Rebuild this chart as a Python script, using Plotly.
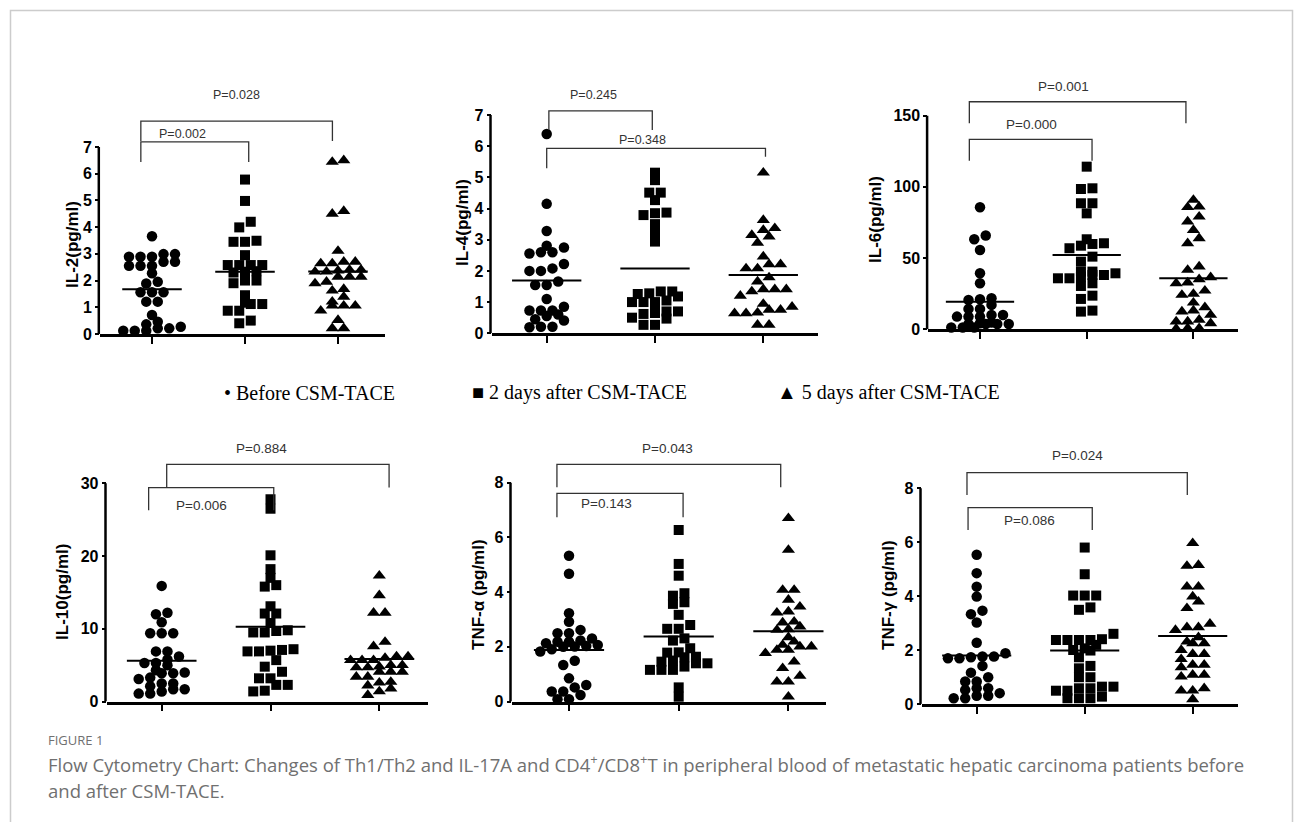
import plotly.graph_objects as go
import numpy as np

W, H = 1295, 822
SY = 822.0 / 831.0   # measured vertical scale of the photographed page

group_names = ["Before CSM-TACE", "2 days after CSM-TACE", "5 days after CSM-TACE"]
symbols = ["circle", "square", "triangle-up"]
marker_sizes = [10.5, 10, 11.5]

# ---------------- data ----------------
il2_before = [3.66, 2.89, 2.99, 2.99, 2.89, 2.89, 2.55, 2.55, 2.7, 2.7, 2.55, 2.27, 1.95, 1.89,
              1.56, 1.56, 1.56, 1.21, 1.21, 0.71, 0.36, 0.27, 0.46, 0.21, 0.12, 0.12, 0.12, 0.21]
il2_day2 = [5.78, 4.98, 4.2, 3.99, 3.49, 3.45, 3.45, 2.95, 2.58, 2.58, 2.58, 2.58, 2.35, 2.3,
            2.33, 2.0, 2.0, 1.9, 1.45, 1.12, 1.12, 1.17, 0.87, 0.87, 0.4, 0.5]
il2_day5 = [6.5, 6.44, 4.5, 4.6, 3.11, 2.7, 2.64, 2.64, 2.7, 2.4, 2.33, 2.33, 2.4, 2.37, 2.14,
            2.14, 2.14, 1.89, 1.95, 1.68, 1.62, 1.39, 1.21, 1.06, 1.06, 1.06, 0.87, 0.52, 0.21, 0.21]
il2_means = [1.67, 2.33, 2.34]
il2_ticks = [0, 1, 2, 3, 4, 5, 6, 7]

il4_before = [6.39, 4.15, 3.28, 2.75, 2.81, 2.6, 2.56, 2.6, 2.0, 2.08, 2.22, 2.0, 1.55, 1.66, 1.55,
              1.10, 0.85, 0.73, 0.73, 0.73, 0.6, 0.55, 0.45, 0.41, 0.21, 0.19, 0.21]
il4_day2 = [5.15, 4.91, 4.51, 4.51, 4.27, 3.85, 3.79, 3.87, 3.5, 3.2, 2.94, 1.34, 1.28, 1.18, 1.26,
            1.34, 1.0, 1.05, 1.0, 1.0, 0.7, 0.75, 0.65, 0.7, 0.62, 0.5, 0.47, 0.27, 0.27]
il4_day5 = [5.15, 3.63, 3.37, 3.31, 3.1, 3.15, 2.9, 2.46, 2.21, 2.08, 2.08, 2.21, 1.79, 1.66, 1.41,
            1.41, 1.2, 1.34, 1.41, 0.94, 0.75, 0.75, 0.85, 0.66, 0.64, 0.64, 0.27, 0.27]
il4_means = [1.69, 2.08, 1.87]
il4_ticks = [0, 1, 2, 3, 4, 5, 6, 7]

il6_before = [85.7, 65.8, 63.2, 55.7, 39.3, 32.3, 21.8, 20.6, 21.1, 14.3, 17.1, 14.3, 8.9, 10, 8.9,
              10, 8.9, 3.7, 4.2, 3.7, 4.7, 3.7, 3.7, 1.2, 1.2, 1.2]
il6_day2 = [114.2, 99, 98.5, 88.5, 88.5, 81.4, 63.2, 59.9, 56.9, 58.7, 60.4, 51, 47.5, 38.1, 40.5,
            40.5, 38.1, 35.8, 39.3, 30.4, 32.3, 23.6, 21.3, 12.4, 13.1, 37, 35.8]
il6_day5 = [90.8, 86.1, 85.7, 75.6, 79.1, 69.7, 63.9, 60.4, 44, 41.7, 32.8, 36.5, 35.1, 32.3, 27.1,
            24.1, 24.8, 15.4, 12.4, 10.1, 13.1, 18.7, 5.4, 5.4, 6.6, 4.2, 0.7, 0.3, 0.7]
il6_means = [19.4, 52.2, 35.8]
il6_ticks = [0, 50, 100, 150]

il10_before = [15.9, 12.0, 12.2, 10.9, 9.4, 9.4, 9.4, 6.9, 5.8, 6.9, 6.2, 5.3, 5.0, 5.3, 4.3, 3.3,
               3.9, 3.9, 4.0, 2.5, 3.1, 2.5, 1.7, 1.4, 1.1, 1.1, 1.7, 2.1]
il10_day2 = [27.8, 26.5, 20.1, 18.2, 17.0, 16.0, 15.8, 13.1, 12.1, 12.1, 9.8, 9.5, 9.5, 9.7, 10.8,
             7.2, 6.9, 7.1, 6.9, 7.0, 5.7, 4.8, 3.2, 3.2, 4.1, 2.3, 2.3, 1.4, 1.5]
il10_day5 = [17.3, 14.6, 12.2, 12.2, 8.2, 7.6, 5.7, 6.2, 5.7, 6.0, 6.2, 5.7, 5.0, 4.7, 4.7, 5.0, 4.8,
             4.1, 3.4, 3.4, 4.1, 4.1, 2.7, 2.6, 2.2, 1.8, 1.4, 0.9]
il10_means = [5.63, 10.3, 5.86]
il10_ticks = [0, 10, 20, 30]

tnfa_before = [5.33, 4.67, 3.23, 2.92, 2.62, 2.5, 2.5, 2.07, 2.23, 2.19, 2.19, 2.31, 1.83, 1.91, 2.01,
               2.13, 1.34, 1.49, 0.85, 0.61, 0.52, 0.37, 0.24, 0.09, 0.09, 0.37, 2.03, 2.0]
tnfa_day2 = [6.27, 5.03, 4.6, 3.96, 3.63, 3.57, 3.87, 3.17, 2.8, 2.66, 2.66, 2.31, 2.23, 1.95, 1.79,
             1.8, 1.64, 1.62, 1.16, 1.16, 1.28, 1.16, 1.4, 0.52, 0.18, 1.5, 1.46, 1.4]
tnfa_day5 = [6.7, 5.54, 4.08, 4.08, 3.72, 3.47, 3.25, 3.29, 2.92, 2.74, 2.64, 2.89, 2.62, 2.19, 2.01,
             2.01, 2.07, 2.35, 1.89, 1.77, 1.89, 1.46, 1.22, 0.94, 0.73, 0.73, 0.18]
tnfa_means = [1.89, 2.38, 2.57]
tnfa_ticks = [0, 2, 4, 6, 8]

tnfg_before = [5.53, 4.85, 4.35, 3.98, 3.46, 3.33, 3.02, 2.27, 1.76, 1.69, 1.88, 1.69, 1.76, 1.73,
               1.41, 1.16, 0.99, 0.83, 0.83, 0.58, 0.52, 0.58, 0.40, 0.30, 0.21, 0.21, 0.30]
tnfg_day2 = [5.8, 4.81, 4.02, 4.02, 4.02, 3.58, 3.49, 2.6, 2.37, 2.37, 2.37, 2.37, 2.4, 2.19, 2.0,
             2.06, 1.98, 1.73, 1.32, 1.41, 0.99, 0.99, 0.64, 0.64, 0.58, 0.58, 0.49, 0.49, 0.27,
             0.21, 0.21, 0.21]
tnfg_day5 = [5.96, 5.15, 5.12, 4.35, 4.35, 3.98, 3.79, 3.55, 2.84, 2.74, 2.84, 2.97, 2.47, 2.31, 2.25,
             2.25, 1.85, 1.85, 2.0, 1.66, 1.36, 1.45, 1.45, 1.08, 1.01, 1.08, 0.49, 0.49, 0.58, 0.17]
tnfg_means = [1.80, 1.98, 2.52]
tnfg_ticks = [0, 2, 4, 6, 8]

p_labels = {
    "IL-2": ["P=0.002", "P=0.028"],
    "IL-4": ["P=0.245", "P=0.348"],
    "IL-6": ["P=0.000", "P=0.001"],
    "IL-10": ["P=0.006", "P=0.884"],
    "TNF-a": ["P=0.143", "P=0.043"],
    "TNF-g": ["P=0.086", "P=0.024"],
}

# ---------------- layout geometry (pixels) ----------------
panels = [
    dict(key="IL-2", title="IL-2(pg/ml)", data=[il2_before, il2_day2, il2_day5], means=il2_means,
         ticks=il2_ticks, left=100, right=385, y0=334, ytop=147, c0=152, step=93, dtop=70,
         tpos=(73, 245), pfs=12.5,
         br=[(-0.12, 1.04, 7.19, 6.44, 6.44, 0.33, 7.5), (-0.12, 1.94, 7.97, 7.22, 7.22, 0.91, 8.93)]),
    dict(key="IL-4", title="IL-4(pg/ml)", data=[il4_before, il4_day2, il4_day5], means=il4_means,
         ticks=il4_ticks, left=491.7, right=818, y0=333.3, ytop=115, c0=546.7, step=108.3, dtop=70,
         tpos=(463, 223), pfs=12.5,
         br=[(0.02, 0.975, 7.13, 6.52, 6.52, 0.43, 7.64), (0.0, 2.02, 5.93, 5.29, 5.66, 0.88, 6.2)]),
    dict(key="IL-6", title="IL-6(pg/ml)", data=[il6_before, il6_day2, il6_day5], means=il6_means,
         ticks=il6_ticks, left=928.3, right=1238, y0=329.3, ytop=115.7, c0=980, step=106.7, dtop=70,
         tpos=(876, 220), pfs=13.5,
         br=[(-0.10, 1.05, 133.4, 118.4, 118.4, 0.48, 143.5), (-0.10, 1.93, 159.8, 144.6, 144.6, 0.78, 170.4)]),
    dict(key="IL-10", title="IL-10(pg/ml)", data=[il10_before, il10_day2, il10_day5], means=il10_means,
         ticks=il10_ticks, left=106.7, right=428, y0=701.7, ytop=483.3, c0=161.7, step=108.8, dtop=430,
         tpos=(63, 592), pfs=13.5,
         br=[(-0.12, 1.03, 29.4, 26.3, 26.3, 0.37, 26.9), (0.046, 2.09, 32.6, 29.4, 29.4, 0.92, 34.8)]),
    dict(key="TNF-a", title="TNF-α (pg/ml)", data=[tnfa_before, tnfa_day2, tnfa_day5], means=tnfa_means,
         ticks=tnfa_ticks, left=511.7, right=826, y0=701.7, ytop=482.7, c0=569, step=109.7, dtop=430,
         tpos=(479, 595), pfs=13.5,
         br=[(-0.11, 1.04, 7.61, 6.74, 6.74, 0.34, 7.22), (-0.11, 1.93, 8.67, 7.83, 7.83, 0.9, 9.26)]),
    dict(key="TNF-g", title="TNF-γ (pg/ml)", data=[tnfg_before, tnfg_day2, tnfg_day5], means=tnfg_means,
         ticks=tnfg_ticks, left=921.7, right=1238, y0=704, ytop=488.3, c0=976.7, step=108, dtop=430,
         tpos=(889, 595), pfs=13.5,
         br=[(-0.08, 1.07, 7.28, 6.45, 6.45, 0.49, 6.8), (-0.09, 1.95, 8.58, 7.75, 7.75, 0.93, 9.23)]),
]


def swarm(vals, ypx, xpx, d=11.5, h=7.0, maxrow=6):
    """Prism-like row scatter: points closer than h px vertically share a row, centred."""
    vals = np.asarray(vals, dtype=float)
    order = list(np.argsort(vals, kind="stable"))
    rows, cur, start = [], [order[0]], vals[order[0]]
    for i in order[1:]:
        if (vals[i] - start) * ypx < h and len(cur) < maxrow:
            cur.append(i)
        else:
            rows.append(cur)
            cur, start = [i], vals[i]
    rows.append(cur)
    offs = np.zeros(len(vals))
    for r in rows:
        n = len(r)
        for k, i in enumerate(r):
            offs[i] = (k - (n - 1) / 2) * d
    return offs / xpx


def fx(px):
    return px / W


def fy(py):
    return 1 - (py / SY) / H


fig = go.Figure()
shapes = []
annotations = []
LABEL_FONT = "Liberation Sans, Arial, sans-serif"

for n, p in enumerate(panels, start=1):
    xa = "x" if n == 1 else f"x{n}"
    ya = "y" if n == 1 else f"y{n}"
    top = p["ticks"][-1]
    ypx = (p["y0"] - p["ytop"]) / top
    xpx = p["step"]
    ymax = top * (p["y0"] - p["dtop"]) / (p["y0"] - p["ytop"])
    xr = [(p["left"] - p["c0"]) / p["step"], (p["right"] - p["c0"]) / p["step"]]

    for g in range(3):
        vals = p["data"][g]
        offs = swarm(vals, ypx, xpx)
        fig.add_trace(go.Scatter(
            x=g + offs, y=vals, mode="markers", xaxis=xa, yaxis=ya, showlegend=False,
            marker=dict(symbol=symbols[g], size=marker_sizes[g], color="black", line=dict(width=0)),
            cliponaxis=False, hoverinfo="skip"))
        m = p["means"][g]
        fig.add_trace(go.Scatter(
            x=[g - 0.32, g + 0.32], y=[m, m], mode="lines", xaxis=xa, yaxis=ya, showlegend=False,
            line=dict(color="black", width=2), hoverinfo="skip"))

    xkey = "xaxis" if n == 1 else f"xaxis{n}"
    ykey = "yaxis" if n == 1 else f"yaxis{n}"
    fig.layout[xkey] = dict(
        domain=[fx(p["left"]), fx(p["right"])], range=xr, anchor=ya,
        showline=True, linecolor="black", linewidth=2.5, showgrid=False, zeroline=False,
        tickmode="array", tickvals=[0, 1, 2], ticks="outside", ticklen=7, tickwidth=2,
        tickcolor="black", showticklabels=False, fixedrange=True)
    fig.layout[ykey] = dict(
        domain=[fy(p["y0"]), fy(p["dtop"])], range=[0, ymax], anchor=xa,
        showline=False, showgrid=False, zeroline=False,
        tickmode="array", tickvals=p["ticks"], ticktext=[str(t) for t in p["ticks"]],
        ticks="outside", ticklen=4, tickwidth=2, tickcolor="black",
        tickfont=dict(family=LABEL_FONT, size=16, color="black", weight="bold"), fixedrange=True)

    # y axis line only up to top tick
    shapes.append(dict(type="line", xref="paper", yref=ya, x0=fx(p["left"]) - 1.2 / W,
                       x1=fx(p["left"]) - 1.2 / W, y0=0, y1=top,
                       line=dict(color="black", width=2.5)))

    # significance brackets
    for (x0, x1, yt, yb0, yb1, tx, ty), lab in zip(p["br"], p_labels[p["key"]]):
        shapes.append(dict(type="path", xref=xa, yref=ya,
                           path=f"M {x0},{yb0} L {x0},{yt} L {x1},{yt} L {x1},{yb1}",
                           line=dict(color="#333333", width=1.3)))
        annotations.append(dict(xref=xa, yref=ya, x=tx, y=ty, text=lab, showarrow=False,
                                font=dict(family=LABEL_FONT, size=p["pfs"], color="#333333")))

    # y axis title
    annotations.append(dict(xref="paper", yref="paper", x=fx(p["tpos"][0]), y=fy(p["tpos"][1]),
                            text=p["title"], textangle=-90, showarrow=False,
                            xanchor="center", yanchor="middle",
                            font=dict(family=LABEL_FONT, size=17, color="black", weight="bold")))

# legend row
legend_items = [("•", group_names[0], 222), ("■", group_names[1], 470), ("▲", group_names[2], 775)]
for sym, name, lx in legend_items:
    annotations.append(dict(xref="paper", yref="paper", x=fx(lx), y=fy(393), xanchor="left",
                            yanchor="middle", showarrow=False, text=f"{sym} {name}",
                            font=dict(family="Liberation Serif, Times New Roman, serif", size=20,
                                      color="black")))

# caption
annotations.append(dict(xref="paper", yref="paper", x=fx(46), y=fy(740), xanchor="left",
                        yanchor="middle", showarrow=False, text="FIGURE 1",
                        font=dict(family="Open Sans, sans-serif", size=13, color="#707070")))
annotations.append(dict(xref="paper", yref="paper", x=fx(46), y=fy(764), xanchor="left",
                        yanchor="middle", showarrow=False,
                        text="Flow Cytometry Chart: Changes of Th1/Th2 and IL-17A and CD4<sup>+</sup>/CD8<sup>+</sup>T in peripheral blood of metastatic hepatic carcinoma patients before",
                        font=dict(family="Open Sans, sans-serif", size=18.5, color="#707070")))
annotations.append(dict(xref="paper", yref="paper", x=fx(46), y=fy(791), xanchor="left",
                        yanchor="middle", showarrow=False, text="and after CSM-TACE.",
                        font=dict(family="Open Sans, sans-serif", size=18.5, color="#707070")))

# outer frame
shapes.append(dict(type="rect", xref="paper", yref="paper", x0=fx(10.5), x1=fx(1292.5),
                   y0=fy(860), y1=fy(10.5), line=dict(color="#cccccc", width=1.5),
                   fillcolor="rgba(0,0,0,0)"))

fig.update_layout(width=W, height=H, margin=dict(l=0, r=0, t=0, b=0), autosize=False,
                  paper_bgcolor="white", plot_bgcolor="white", shapes=shapes,
                  annotations=annotations, showlegend=False)

fig.write_html("out.html", config={"displayModeBar": False},
               post_script="document.body.style.margin='0';document.body.style.overflow='hidden';")
